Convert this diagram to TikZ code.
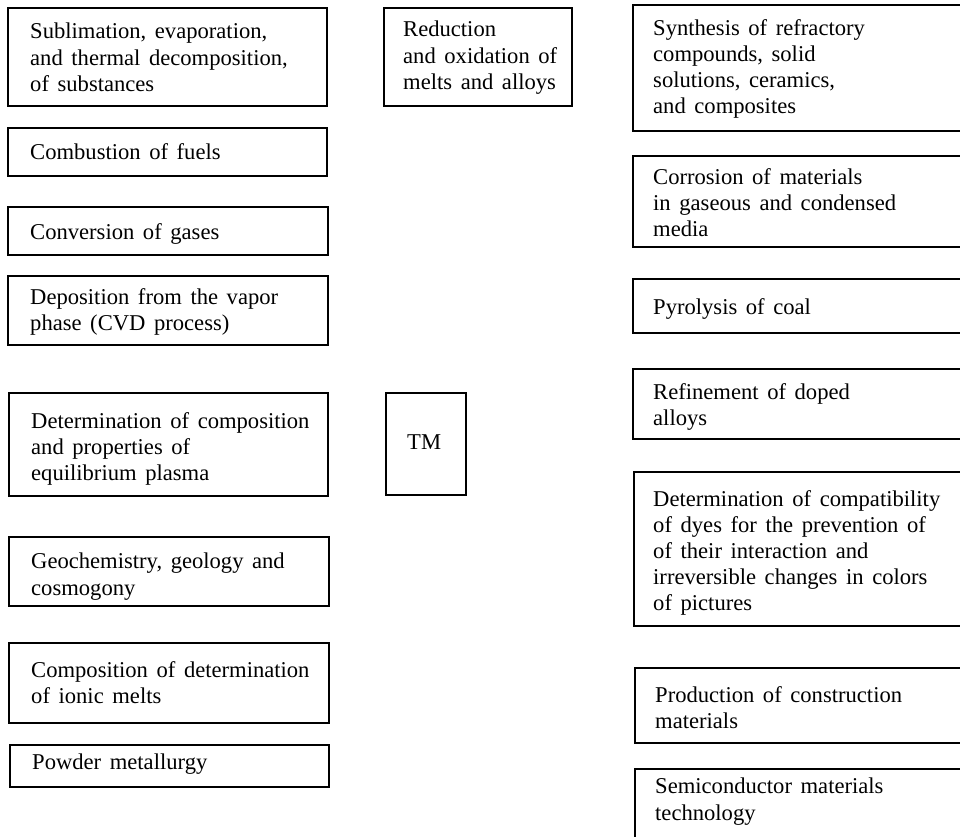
\documentclass[tikz,border=0pt]{standalone}
\usepackage{fontspec}
\setmainfont{Liberation Serif}
\newcommand\firstln{\rule{0pt}{15pt}}
\begin{document}
\begin{tikzpicture}[x=1pt,y=-1pt,
  box/.style={draw=black, line width=1.5pt, rectangle, anchor=north west, inner sep=0pt, outer sep=0pt},
  lbl/.style={anchor=north west, inner sep=0pt, align=left,
    font={\fontsize{22.6}{26.2}\selectfont\spaceskip=0.38em plus 0.1em minus 0.05em}}]
\useasboundingbox (0,0) rectangle (960,836);
\clip (0,0) rectangle (960,836);
% left column
\node[box, minimum width=319pt, minimum height=98pt] (L1) at (8,8) {};
\node[box, minimum width=319pt, minimum height=48pt] (L2) at (8,128) {};
\node[box, minimum width=320pt, minimum height=48pt] (L3) at (8,207) {};
\node[box, minimum width=320pt, minimum height=69pt] (L4) at (8,276) {};
\node[box, minimum width=319pt, minimum height=103pt] (L5) at (9,393) {};
\node[box, minimum width=320pt, minimum height=69pt] (L6) at (9,537) {};
\node[box, minimum width=320pt, minimum height=80pt] (L7) at (9,643) {};
\node[box, minimum width=319pt, minimum height=42pt] (L8) at (10,745) {};
% middle column
\node[box, minimum width=188pt, minimum height=98pt] (RED) at (384,8) {};
\node[box, minimum width=80pt, minimum height=102pt] (TM) at (386,393) {};
% right column
\node[box, minimum width=360pt, minimum height=126pt] (R1) at (633,5) {};
\node[box, minimum width=360pt, minimum height=91pt] (R2) at (633,156) {};
\node[box, minimum width=360pt, minimum height=54pt] (R3) at (633,279) {};
\node[box, minimum width=360pt, minimum height=70pt] (R4) at (633,369) {};
\node[box, minimum width=360pt, minimum height=154pt] (R5) at (634,472) {};
\node[box, minimum width=360pt, minimum height=75pt] (R6) at (635,668) {};
\node[box, minimum width=360pt, minimum height=100pt] (R7) at (635,769) {};
% labels (baseline offset minus 15pt strut)
\node[lbl] (tL1) at ([shift={(22,15)}]L1.north west) {\firstln Sublimation, evaporation,\\and thermal decomposition,\\of substances};
\node[lbl] (tL2) at ([shift={(22,15)}]L2.north west) {\firstln Combustion of fuels};
\node[lbl] (tL3) at ([shift={(22,16)}]L3.north west) {\firstln Conversion of gases};
\node[lbl] (tL4) at ([shift={(22,12)}]L4.north west) {\firstln Deposition from the vapor\\phase (CVD process)};
\node[lbl] (tL5) at ([shift={(22,19)}]L5.north west) {\firstln Determination of composition\\and properties of\\equilibrium plasma};
\node[lbl] (tL6) at ([shift={(22,16)}]L6.north west) {\firstln Geochemistry, geology and\\cosmogony};
\node[lbl] (tL7) at ([shift={(22,18)}]L7.north west) {\firstln Composition of determination\\of ionic melts};
\node[lbl] (tL8) at ([shift={(22,9)}]L8.north west) {\firstln Powder metallurgy};
\node[lbl] (tRED) at ([shift={(19,13)}]RED.north west) {\firstln Reduction\\and oxidation of\\melts and alloys};
\node[lbl] (tTM) at ([shift={(21,41)}]TM.north west) {\firstln TM};
\node[lbl] (tR1) at ([shift={(20,14)}]R1.north west) {\firstln Synthesis of refractory\\compounds, solid\\solutions, ceramics,\\and composites};
\node[lbl] (tR2) at ([shift={(20,12)}]R2.north west) {\firstln Corrosion of materials\\in gaseous and condensed\\media};
\node[lbl] (tR3) at ([shift={(20,19)}]R3.north west) {\firstln Pyrolysis of coal};
\node[lbl] (tR4) at ([shift={(20,14)}]R4.north west) {\firstln Refinement of doped\\alloys};
\node[lbl] (tR5) at ([shift={(19,18)}]R5.north west) {\firstln Determination of compatibility\\of dyes for the prevention of\\of their interaction and\\irreversible changes in colors\\of pictures};
\node[lbl] (tR6) at ([shift={(20,18)}]R6.north west) {\firstln Production of construction\\materials};
\node[lbl] (tR7) at ([shift={(20,9)}]R7.north west) {\firstln Semiconductor materials\\technology};
\end{tikzpicture}
\end{document}
